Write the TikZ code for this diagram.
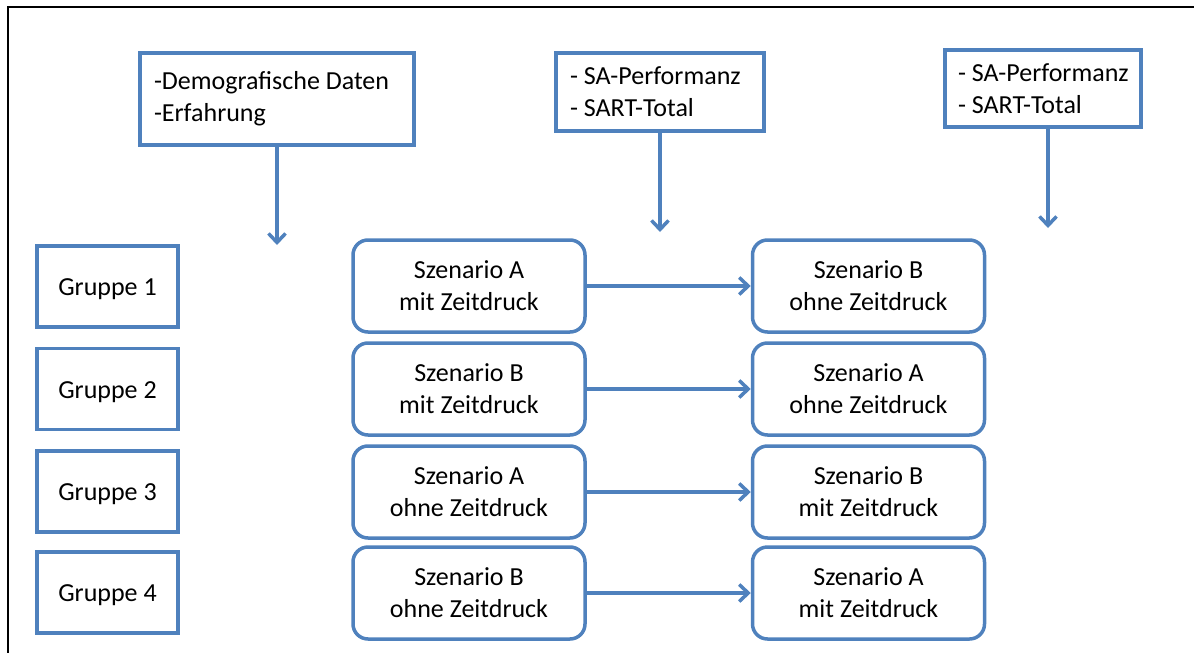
\documentclass[tikz,border=0pt]{standalone}
\usepackage{fontspec}
\setmainfont{Carlito}
\usetikzlibrary{arrows.meta}
\definecolor{ob}{RGB}{79,129,189}
\newcommand\myfs{\fontsize{26}{32}\selectfont}
\begin{document}
\begin{tikzpicture}[x=1pt,y=-1pt,
  grp/.style={draw=ob, line width=3.5pt, minimum width=141pt, minimum height=81pt, inner sep=0pt, text height=18pt, text depth=0pt, font=\myfs},
  scen/.style={draw=ob, line width=3.5pt, rounded corners=15pt, minimum width=232pt, minimum height=92pt, align=center, inner sep=0pt, text depth=1pt, font=\myfs},
  info/.style={draw=ob, line width=3.5pt, align=flush left, font=\myfs, inner ysep=0pt},
  conn/.style={draw=ob, line width=3.5pt, -{Straight Barb[length=9pt,width=17pt,line width=3.5pt]}}
]
\useasboundingbox (0,0) rectangle (1194,653);
% frame
\coordinate (f1) at (8,653);
\coordinate (f2) at (8,7);
\coordinate (f3) at (1194,7);
\draw[line width=2pt] (f1) -- (f2) -- (f3);

% top info boxes
\node[info, text width=246pt, inner xsep=14pt, minimum height=92pt] (demo) at (277,99)
  {-Demografische Daten\\-Erfahrung};
\node[info, text width=180pt, inner xsep=14pt, minimum height=78pt] (sa1) at (660,92)
  {- SA-Performanz\\- SART-Total};
\node[info, text width=178pt, inner xsep=9pt, minimum height=77pt] (sa2) at (1043,88.5)
  {\hspace*{4pt}- SA-Performanz\\\hspace*{4pt}- SART-Total};

\coordinate (d1) at (277,245);
\coordinate (d2) at (660,232);
\coordinate (d3) at (1048,228);
\draw[conn] (demo.south) -- (d1);
\draw[conn] (sa1.south) -- (d2);
\draw[conn] (sa2.south -| d3) -- (d3);

% groups
\node[grp] (g1) at (107.5,286.5) {Gruppe 1};
\node[grp] (g2) at (107.5,389) {Gruppe 2};
\node[grp] (g3) at (107.5,491.5) {Gruppe 3};
\node[grp] (g4) at (107.5,592.5) {Gruppe 4};

% scenarios
\node[scen] (l1) at (469,286) {Szenario A\\mit Zeitdruck};
\node[scen] (l2) at (469,389) {Szenario B\\mit Zeitdruck};
\node[scen] (l3) at (469,492) {Szenario A\\ohne Zeitdruck};
\node[scen] (l4) at (469,593) {Szenario B\\ohne Zeitdruck};
\node[scen] (r1) at (868.5,286) {Szenario B\\ohne Zeitdruck};
\node[scen] (r2) at (868.5,389) {Szenario A\\ohne Zeitdruck};
\node[scen] (r3) at (868.5,492) {Szenario B\\mit Zeitdruck};
\node[scen] (r4) at (868.5,593) {Szenario A\\mit Zeitdruck};

\draw[conn] (l1) -- (r1);
\draw[conn] (l2) -- (r2);
\draw[conn] (l3) -- (r3);
\draw[conn] (l4) -- (r4);
\end{tikzpicture}
\end{document}
